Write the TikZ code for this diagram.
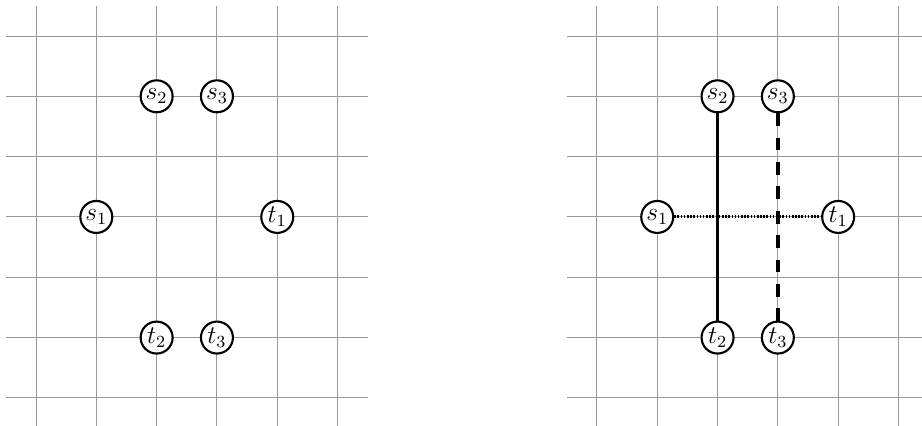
\documentclass[tikz,border=0pt]{standalone}
\usepackage{tikz}

\tikzset{
  gridline/.style={gray!80, line width=0.45pt},
  vertex/.style={circle, draw, line width=1pt, fill=white, minimum size=0.53cm, inner sep=0pt, font=\large},
  pathA/.style={line width=1.6pt},
  pathB/.style={line width=1.6pt, dash pattern=on 6pt off 5.5pt},
  pathC/.style={line width=1.4pt, dash pattern=on 0.75pt off 0.75pt}
}

\begin{document}
\begin{tikzpicture}
    \useasboundingbox (-0.597,-0.465) rectangle (14.69,6.597);

    % 左图：只有端点
    \draw[gridline] (-0.5,-0.5) grid (5.5,6.5);
    \node[vertex] (s1) at (1,3) {$s_1$};
    \node[vertex] (s2) at (2,5) {$s_2$};
    \node[vertex] (s3) at (3,5) {$s_3$};
    \node[vertex] (t1) at (4,3) {$t_1$};
    \node[vertex] (t2) at (2,1) {$t_2$};
    \node[vertex] (t3) at (3,1) {$t_3$};

    % 右图：连上路径
    \begin{scope}[xshift=9.3cm]
        \draw[gridline] (-0.5,-0.5) grid (5.5,6.5);
        \node[vertex] (rs1) at (1,3) {$s_1$};
        \node[vertex] (rs2) at (2,5) {$s_2$};
        \node[vertex] (rs3) at (3,5) {$s_3$};
        \node[vertex] (rt1) at (4,3) {$t_1$};
        \node[vertex] (rt2) at (2,1) {$t_2$};
        \node[vertex] (rt3) at (3,1) {$t_3$};

        \draw[pathC] (rs1) -- (rt1);
        \draw[pathA] (rs2) -- (rt2);
        \draw[pathB] (rs3) -- (rt3);
    \end{scope}
\end{tikzpicture}
\end{document}
